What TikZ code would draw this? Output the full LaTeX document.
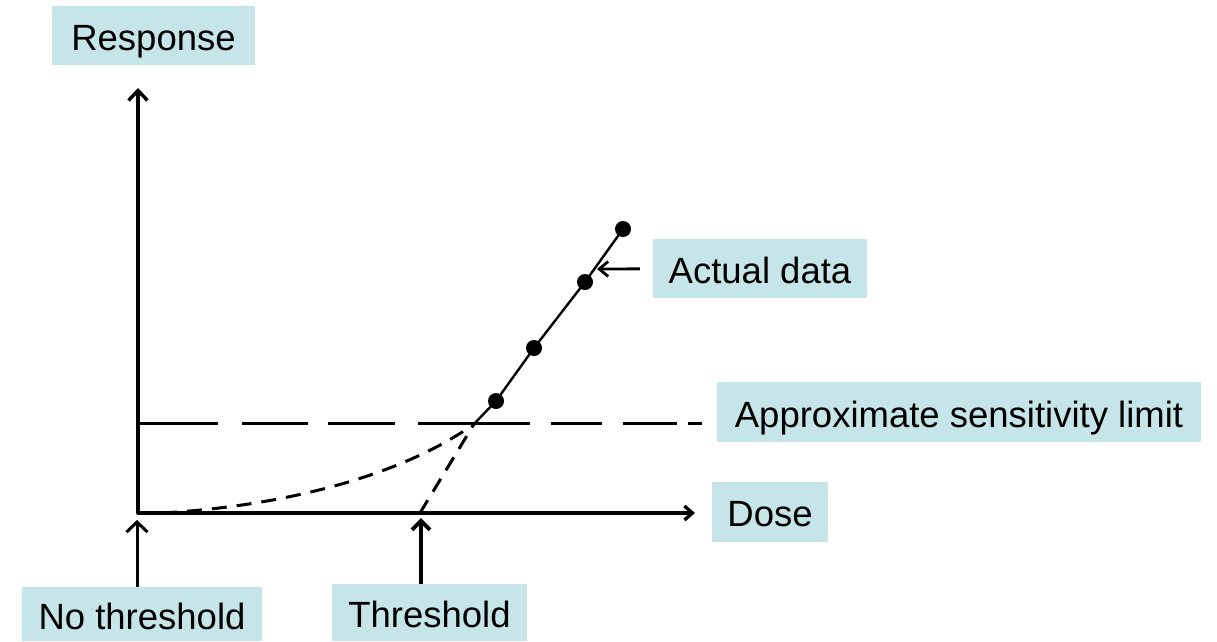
\documentclass[tikz,border=0pt]{standalone}
\usepackage{fontspec}
\setmainfont{Liberation Sans}
\usetikzlibrary{arrows.meta}
\definecolor{boxcyan}{RGB}{197,229,232}
\tikzset{
  lbl/.style={fill=boxcyan, inner sep=0pt, text height=32pt, text depth=2pt,
    font=\fontsize{36.5}{40}\selectfont},
  axisline/.style={line width=3.4pt, line cap=round},
  dashline/.style={line width=3pt, dash pattern=on 15pt off 10pt},
  datadot/.style={circle, fill=black, inner sep=0pt, minimum size=16pt},
  pointer/.style={line width=2.8pt},
}
\begin{document}
\begin{tikzpicture}[x=1pt,y=-1pt]
\useasboundingbox (0,0) rectangle (1217,641);

% labels
\node[lbl, minimum width=203pt, minimum height=59pt] (resp) at (153.5,35.5) {Response\hspace{8pt}};
\node[lbl, minimum width=214pt, minimum height=59pt] (act) at (760,268.8) {Actual data};
\node[lbl, minimum width=484pt, minimum height=60pt] (sens) at (959,412) {Approximate sensitivity limit};
\node[lbl, minimum width=116pt, minimum height=60pt] (dose) at (770,511.7) {Dose};
\node[lbl, minimum width=240pt, minimum height=54pt] (nothr) at (142,614) {No threshold};
\node[lbl, minimum width=195pt, minimum height=57pt] (thr) at (429.5,612.5) {Threshold};

% key points
\coordinate (O) at (138,513);
\coordinate (ytip) at (138,88);
\coordinate (xtip) at (695,513);
\coordinate (cross) at (474,424);
\coordinate (thrpt) at (420,513);

% axes
\draw[axisline, -{Straight Barb[length=10pt,width=19pt]}] (O) -- (ytip);
\draw[axisline, -{Straight Barb[length=8pt,width=14pt]}] (O) -- (xtip);

% sensitivity limit (long dashes)
\foreach \a/\b in {138/218, 242/308, 328/395, 418/530, 551/602, 623/677, 688/702}
  \draw[line width=3pt] (\a,423) -- (\b,423);

% dashed curve and threshold line
\draw[dashline] (162,513) .. controls (300,505) and (410,470) .. (cross);
\draw[dashline] (thrpt) -- (cross);

% data
\node[datadot] (p1) at (496,401) {};
\node[datadot] (p2) at (534,348) {};
\node[datadot] (p3) at (585,282) {};
\node[datadot] (p4) at (623,229) {};
\draw[line width=2.4pt] (cross) -- (p1.center) -- (p2.center) -- (p3.center) -- (p4.center);

% pointers
\coordinate (acttip) at (597,269);
\draw[pointer, shorten <=13pt, -{Straight Barb[length=9pt,width=15pt]}] (act.west) -- (acttip);
\coordinate (thrtip) at (421,518);
\draw[line width=4pt, -{Straight Barb[length=9pt,width=18pt]}] (thrtip |- thr.north) -- (thrtip);
\coordinate (nthtip) at (137,520);
\draw[line width=3pt, -{Straight Barb[length=10pt,width=21pt]}] (nthtip |- nothr.north) -- (nthtip);
\end{tikzpicture}
\end{document}
